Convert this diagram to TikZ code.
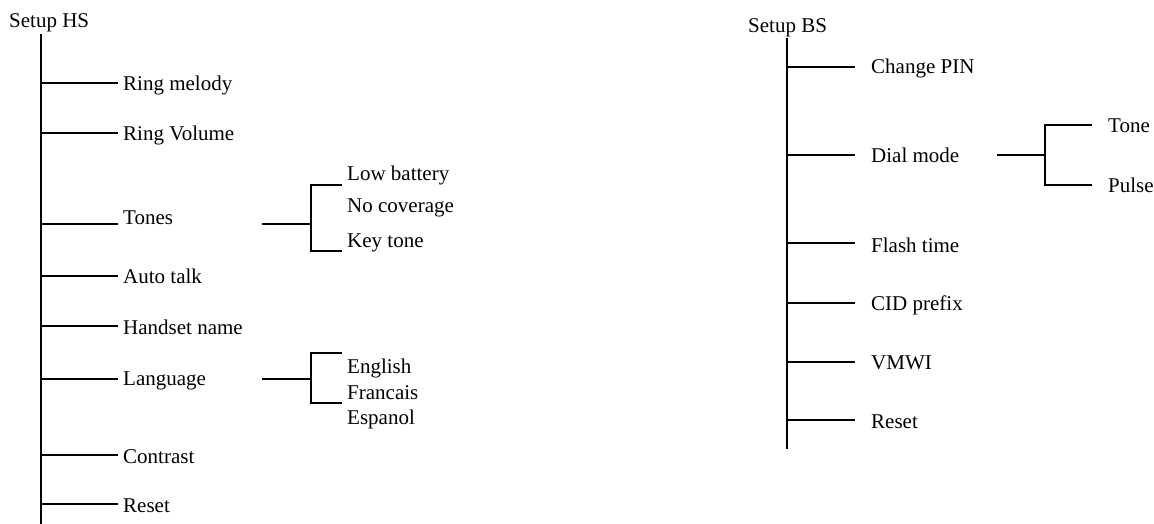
\documentclass[tikz,border=0pt]{standalone}
\usepackage{fontspec}
\setmainfont{Liberation Serif}
\begin{document}
\begin{tikzpicture}[x=1pt,y=-1pt,
  lbl/.style={anchor=base west,inner sep=0pt,font=\fontsize{21}{25}\selectfont},
  ln/.style={line width=2pt}]
\useasboundingbox (0,0) rectangle (1154,524);
% ---------- Setup HS ----------
\node[lbl] (hs) at (9,28) {Setup HS};
\coordinate (hsTop) at (41,34);
\coordinate (hsBot) at (41,524);
\draw[ln] (hsTop) -- (hsBot);
\foreach \y/\b/\name/\txt in {83/91/rm/Ring melody, 133/141/rv/Ring Volume, 224/224/to/Tones,
  276/283/at/Auto talk, 326/334/hn/Handset name, 379/385/la/Language, 455/463/co/Contrast, 504/512/re/Reset}{
  \coordinate (\name-a) at (41,\y);
  \coordinate (\name-b) at (118,\y);
  \draw[ln] (\name-a) -- (\name-b);
  \node[lbl] (\name) at (123,\b) {\txt};
}
% Tones sub-items
\coordinate (tA) at (262,224);
\coordinate (tB) at (311,224);
\coordinate (tT) at (311,185);
\coordinate (tL) at (311,251);
\coordinate (tTe) at (342,185);
\coordinate (tLe) at (342,251);
\draw[ln] (tA) -- (tB);
\draw[ln] (tTe) -- (tT) -- (tL) -- (tLe);
\node[lbl] (lb) at (347,180) {Low battery};
\node[lbl] (nc) at (347,212) {No coverage};
\node[lbl] (kt) at (347,247) {Key tone};
% Language sub-items
\coordinate (lA) at (262,379);
\coordinate (lB) at (311,379);
\coordinate (lT) at (311,353);
\coordinate (lL) at (311,403);
\coordinate (lTe) at (342,353);
\coordinate (lLe) at (342,403);
\draw[ln] (lA) -- (lB);
\draw[ln] (lTe) -- (lT) -- (lL) -- (lLe);
\node[lbl] (en) at (347,373) {English};
\node[lbl] (fr) at (347,399) {Francais};
\node[lbl] (es) at (347,424) {Espanol};
% ---------- Setup BS ----------
\node[lbl] (bs) at (748,33) {Setup BS};
\coordinate (bsTop) at (787,38);
\coordinate (bsBot) at (787,449);
\draw[ln] (bsTop) -- (bsBot);
\foreach \y/\b/\name/\txt in {67/74/cp/Change PIN, 155/163/dm/Dial mode, 243/252/ft/Flash time,
  303/310/ci/CID prefix, 362/369/vm/VMWI, 420/428/rb/Reset}{
  \coordinate (\name-a) at (787,\y);
  \coordinate (\name-b) at (855,\y);
  \draw[ln] (\name-a) -- (\name-b);
  \node[lbl] (\name) at (871,\b) {\txt};
}
% Dial mode sub-items
\coordinate (dA) at (997,155);
\coordinate (dB) at (1045,155);
\coordinate (dT) at (1045,125);
\coordinate (dL) at (1045,185);
\coordinate (dTe) at (1092,125);
\coordinate (dLe) at (1092,185);
\draw[ln] (dA) -- (dB);
\draw[ln] (dTe) -- (dT) -- (dL) -- (dLe);
\node[lbl] (tone) at (1108,133) {Tone};
\node[lbl] (pulse) at (1108,192) {Pulse};
\end{tikzpicture}
\end{document}
